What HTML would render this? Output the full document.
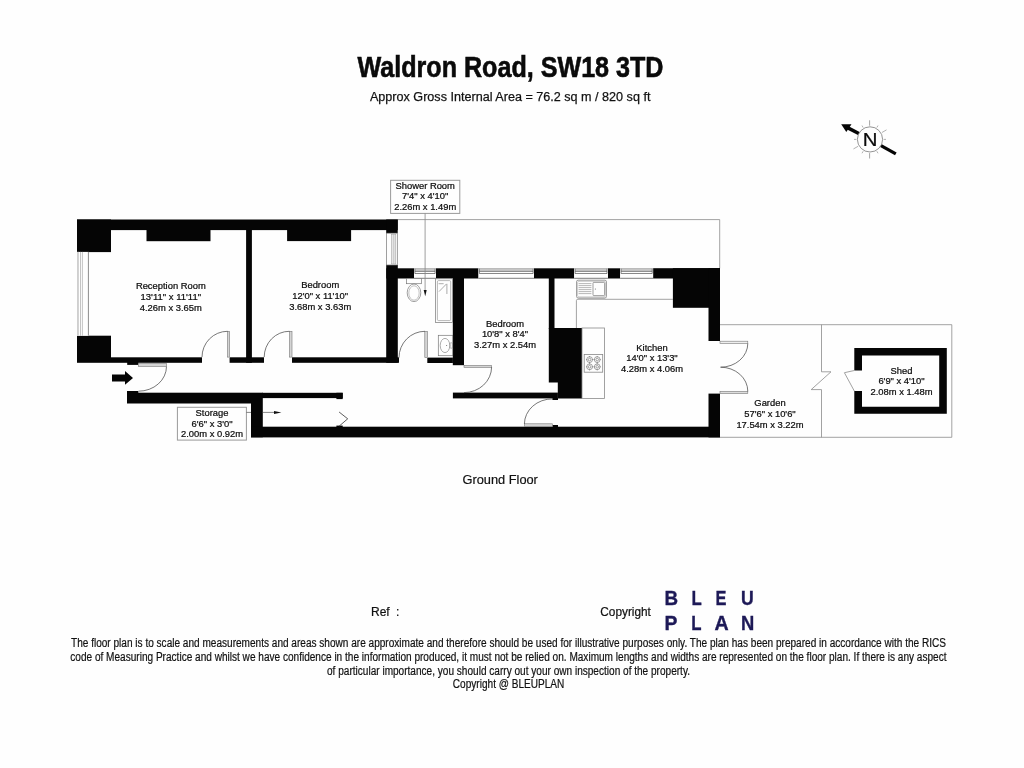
<!DOCTYPE html>
<html>
<head>
<meta charset="utf-8">
<title>Waldron Road, SW18 3TD</title>
<style>
html,body{margin:0;padding:0;background:#fefefe;}
body{width:1024px;height:768px;overflow:hidden;position:relative;font-family:"Liberation Sans",sans-serif;}
svg{position:absolute;left:0;top:0;will-change:transform;}
svg text{font-family:"Liberation Sans",sans-serif;}
.lbl{font-size:9.4px;fill:#0c0c0c;text-anchor:middle;stroke:#0c0c0c;stroke-width:0.22;}
.thin{fill:none;stroke:#555;stroke-width:0.8;}
.gray{fill:none;stroke:#8a8a8a;stroke-width:0.8;}
.leaf{fill:#d4d4d4;stroke:#777;stroke-width:0.6;}
.box{fill:#fefefe;stroke:#9a9a9a;stroke-width:1;}
.disc{font-size:12px;fill:#111;stroke:#111;stroke-width:0.2;}
</style>
</head>
<body>
<svg width="1024" height="768" viewBox="0 0 1024 768">
<rect x="0" y="0" width="1024" height="768" fill="#fefefe"/>

<!-- TITLE -->
<g id="title">
<text x="510.5" y="76.5" text-anchor="middle" font-size="29.4" font-weight="bold" fill="#0a0a0a" stroke="#0a0a0a" stroke-width="0.6" textLength="306" lengthAdjust="spacingAndGlyphs">Waldron Road, SW18 3TD</text>
<text x="510.2" y="101.4" text-anchor="middle" font-size="13.7" fill="#111" stroke="#111" stroke-width="0.25" textLength="280.5" lengthAdjust="spacingAndGlyphs">Approx Gross Internal Area = 76.2 sq m / 820 sq ft</text>
</g>

<!-- COMPASS -->
<g id="compass" transform="translate(870,139.4)">
<g stroke="#8f8f8f" stroke-width="0.7"><line x1="-0.4" y1="-13.70" x2="-0.4" y2="-19.10" stroke="#808080"/><line x1="6.85" y1="-11.86" x2="8.00" y2="-13.86"/><line x1="11.86" y1="-6.85" x2="16.54" y2="-9.55"/><line x1="13.70" y1="-0.00" x2="16.00" y2="-0.00"/><line x1="6.85" y1="11.86" x2="8.00" y2="13.86"/><line x1="-0.4" y1="13.70" x2="-0.4" y2="19.10" stroke="#808080"/><line x1="-6.85" y1="11.86" x2="-8.00" y2="13.86"/><line x1="-11.86" y1="6.85" x2="-16.54" y2="9.55"/><line x1="-13.70" y1="0.00" x2="-16.00" y2="0.00"/><line x1="-6.85" y1="-11.86" x2="-8.00" y2="-13.86"/></g>
<path d="M9.74 7.37 L24.99 15.94 L26.61 13.06 L11.36 4.49 Z" fill="#050505"/><path d="M-9.92 -7.14 L-22.25 -13.56 L-23.87 -10.46 L-11.54 -4.04 Z" fill="#050505"/><path d="M-28.8 -15.2 L-18.5 -15.2 L-23.7 -7.5 Z" fill="#050505"/>
<circle cx="0" cy="0" r="12.6" fill="#fefefe" stroke="#777" stroke-width="0.8"/>
<text transform="translate(0.2,6.7) scale(1.1,1)" text-anchor="middle" font-size="18.5" fill="#0a0a0a" stroke="#0a0a0a" stroke-width="0.25">N</text>
</g>

<!-- PLAN -->
<g id="plan">
<!-- thin boundary / garden lines -->
<g class="gray">
<path d="M397.3 219.6 H719.7 V268.3"/>
<path d="M720 324.7 H951.8 V437.3 H720"/>
<path d="M821.5 324.7 V371.8 H831 L811.2 389.6 H821.5 V437.3"/>
</g>

<!-- WALLS -->
<g fill="#050505" stroke="none">
<!-- front building -->
<rect x="77" y="219.5" width="320.7" height="10.6"/>
<rect x="77" y="219.5" width="34" height="32.6"/>
<rect x="77" y="335.7" width="34" height="27.1"/>
<rect x="146.5" y="229" width="64" height="12.2"/>
<rect x="246.1" y="229" width="5.8" height="133.8"/>
<rect x="287.1" y="229" width="64" height="12.1"/>
<rect x="386.2" y="219.5" width="11.5" height="13.7"/>
<rect x="386.2" y="265" width="11.6" height="97.8"/>
<!-- reception / bedroom bottom wall -->
<rect x="111" y="357.3" width="91" height="5.5"/>
<rect x="229.6" y="357.3" width="34.4" height="5.5"/>
<rect x="292" y="357.3" width="107" height="5.5"/>
<rect x="427.3" y="357.6" width="25.6" height="5.4"/>
<rect x="127.2" y="362" width="11.1" height="2.9"/>
<!-- corridor lower wall + storage -->
<rect x="127" y="392.7" width="124" height="10.8"/><rect x="127" y="391" width="11.3" height="2"/>
<rect x="251" y="392.7" width="11.8" height="44.6"/>
<rect x="262" y="392.8" width="80.7" height="5.3"/><rect x="336.4" y="392.8" width="6.3" height="6.3"/><rect x="336.4" y="425.6" width="6.3" height="2"/>
<rect x="251" y="426.7" width="469" height="10.7"/>
<!-- rear top wall segments -->
<rect x="386.3" y="268.3" width="27.7" height="10.2"/>
<rect x="436" y="268.3" width="42.5" height="10.2"/>
<rect x="534" y="268.3" width="40.2" height="10.2"/>
<rect x="607.9" y="268.3" width="12.3" height="10.2"/>
<rect x="653.1" y="268.2" width="66.9" height="10.3"/>
<!-- shower/bed wall -->
<rect x="452.8" y="278" width="11.2" height="87.2"/>
<!-- bed2 bottom wall -->
<rect x="452.9" y="392.6" width="105" height="5.8"/>
<!-- bed2/kitchen wall -->
<rect x="548.8" y="278" width="5.7" height="51"/>
<path d="M548.8 328 H582 V398.4 H557.8 V382.6 H548.8 Z"/>
<rect x="552.4" y="398" width="5.6" height="2"/>
<rect x="552.4" y="425" width="5.6" height="2"/>
<!-- kitchen top-right block and right wall -->
<rect x="672.9" y="268.2" width="47.1" height="39.6"/>
<rect x="708.5" y="268.2" width="11.5" height="72.8"/>
<rect x="708.5" y="393.6" width="11.5" height="43.8"/>
<!-- shed -->
<path d="M854.3 348 H946.8 V413.8 H854.3 V391 H862 V406.8 H939.2 V355.4 H862 V370.5 H854.3 Z"/>
</g>

<!-- WINDOWS -->
<g id="windows">
<!-- left bay window -->
<rect x="77.3" y="251.9" width="11.2" height="83.8" fill="#fefefe" stroke="none"/>
<rect x="77" y="251.9" width="1.9" height="83.8" fill="#cfcfcf"/>
<line x1="80.5" y1="251.9" x2="80.5" y2="335.7" stroke="#aaa" stroke-width="0.7"/>
<line x1="82.4" y1="251.9" x2="82.4" y2="335.7" stroke="#aaa" stroke-width="0.7"/>
<line x1="88.4" y1="251.9" x2="88.4" y2="335.7" stroke="#8c8c8c" stroke-width="1"/>
<!-- bedroom right window -->
<rect x="386.5" y="233.2" width="10.8" height="31.8" fill="#fefefe" stroke="#777" stroke-width="0.7"/>
<rect x="391.4" y="234.2" width="4.4" height="29.8" fill="#e6e6e6" stroke="#999" stroke-width="0.5"/>
<line x1="393.7" y1="234.2" x2="393.7" y2="264" stroke="#aaa" stroke-width="0.5"/>
<!-- top wall windows -->
<g>
<rect x="414" y="268.4" width="22.0" height="10" fill="#fefefe"/>
<rect x="414.9" y="268.5" width="20.2" height="2.7" fill="#c9c9c9"/>
<path d="M414.9 268.6 V273.5 H435.1 V268.6 M414.9 271.4 H435.1" fill="none" stroke="#555" stroke-width="0.7"/>
<path d="M414 268.6 H436" fill="none" stroke="#999" stroke-width="0.6"/>
<path d="M414 278.3 H436" fill="none" stroke="#444" stroke-width="0.7"/>
</g>
<g>
<rect x="478.5" y="268.4" width="55.5" height="10" fill="#fefefe"/>
<rect x="479.4" y="268.5" width="53.7" height="2.7" fill="#c9c9c9"/>
<path d="M479.4 268.6 V273.5 H533.1 V268.6 M479.4 271.4 H533.1" fill="none" stroke="#555" stroke-width="0.7"/>
<path d="M478.5 268.6 H534" fill="none" stroke="#999" stroke-width="0.6"/>
<path d="M478.5 278.3 H534" fill="none" stroke="#444" stroke-width="0.7"/>
</g>
<g>
<rect x="574.2" y="268.4" width="33.7" height="10" fill="#fefefe"/>
<rect x="575.1" y="268.5" width="31.9" height="2.7" fill="#c9c9c9"/>
<path d="M575.1 268.6 V273.5 H607.0 V268.6 M575.1 271.4 H607.0" fill="none" stroke="#555" stroke-width="0.7"/>
<path d="M574.2 268.6 H607.9" fill="none" stroke="#999" stroke-width="0.6"/>
<path d="M574.2 278.3 H607.9" fill="none" stroke="#444" stroke-width="0.7"/>
</g>
<g>
<rect x="620.2" y="268.4" width="32.9" height="10" fill="#fefefe"/>
<rect x="621.1" y="268.5" width="31.1" height="2.7" fill="#c9c9c9"/>
<path d="M621.1 268.6 V273.5 H652.2 V268.6 M621.1 271.4 H652.2" fill="none" stroke="#555" stroke-width="0.7"/>
<path d="M620.2 268.6 H653.1" fill="none" stroke="#999" stroke-width="0.6"/>
<path d="M620.2 278.3 H653.1" fill="none" stroke="#444" stroke-width="0.7"/>
</g>
</g>

<!-- DOORS -->
<g id="doors">
<!-- reception door -->
<rect class="leaf" x="227.5" y="331.3" width="2" height="25.8"/>
<path class="thin" d="M227.5 331.3 A25.6 25.8 0 0 0 202 357.1"/>
<!-- bedroom 1 door -->
<rect class="leaf" x="289.4" y="331.3" width="2.6" height="25.8"/>
<path class="thin" d="M289.4 331.3 A25.2 25.8 0 0 0 264.2 357.1"/>
<!-- shower door -->
<rect class="leaf" x="424.8" y="331.3" width="2.6" height="26.4"/>
<path class="thin" d="M425 331.3 A26 26.4 0 0 0 399 357.7"/>
<!-- front door -->
<rect class="leaf" x="138.3" y="363.6" width="28.2" height="2.8"/>
<path class="thin" d="M166.5 366.4 A28 24.8 0 0 1 138.5 391.2"/>
<!-- bedroom 2 door -->
<rect class="leaf" x="464" y="365.4" width="27.6" height="2" fill="#fefefe"/>
<path class="thin" d="M491.6 367 A27.6 25.6 0 0 1 464 392.6"/>
<!-- kitchen door -->
<rect class="leaf" x="524.4" y="423.8" width="28" height="2.8"/>
<path class="thin" d="M524.4 424 A28 25.2 0 0 1 552.6 398.9"/>
<!-- french doors -->
<rect class="leaf" x="720" y="341.2" width="27.8" height="2.2" style="fill:#eee"/>
<rect class="leaf" x="720" y="391.3" width="27.8" height="2.3" style="fill:#ddd"/>
<path class="thin" d="M747.8 343.4 A27.2 23.8 0 0 1 720.6 367.2"/>
<path class="thin" d="M747.8 391.3 A27.2 24.1 0 0 0 720.6 367.2"/>
<!-- shed door -->
<path class="gray" d="M854.3 370.5 L844.4 372.7 L854.3 391"/>
<!-- folding door in storage -->
<path d="M339.1 412 L347.7 418.8 L339.1 426.2" fill="none" stroke="#333" stroke-width="0.8"/>
</g>

<!-- entrance arrow -->
<path d="M112 374.6 H125 V371 L133 377.9 L125 384.8 V381.4 H112 Z" fill="#050505"/>

<!-- FIXTURES -->
<g id="fixtures">
<!-- toilet -->
<rect x="406.6" y="278.5" width="15" height="5.2" fill="#fefefe" stroke="#777" stroke-width="0.7"/>
<ellipse cx="414" cy="292.8" rx="6.8" ry="8.8" fill="#fefefe" stroke="#777" stroke-width="0.7"/>
<ellipse cx="414" cy="293" rx="5.2" ry="7.2" fill="none" stroke="#999" stroke-width="0.6"/>
<!-- shower tray -->
<rect x="435.6" y="278.8" width="16.9" height="43.6" fill="#fefefe" stroke="#777" stroke-width="0.7"/>
<rect x="437.4" y="280.6" width="13.3" height="40" rx="1.2" fill="none" stroke="#888" stroke-width="0.6"/>
<path d="M438.6 283.7 H443.6 M439 291.6 L446.4 284 M446.9 283.8 V294" fill="none" stroke="#888" stroke-width="0.7"/>
<!-- basin -->
<rect x="438.3" y="335.3" width="14.4" height="20.4" fill="#fefefe" stroke="#777" stroke-width="0.7"/>
<ellipse cx="445" cy="345.5" rx="4.8" ry="7.1" fill="none" stroke="#888" stroke-width="0.7"/>
<circle cx="446.6" cy="345.5" r="0.6" fill="#777"/>
<rect x="450" y="342.8" width="2.4" height="5.4" rx="0.8" fill="none" stroke="#888" stroke-width="0.6"/>
<!-- kitchen counters -->
<path class="gray" d="M576.4 328 V300.6 Q576.4 299.3 577.8 299.3 H673"/>
<rect x="582" y="328" width="22.5" height="70.4" class="gray"/>
<!-- kitchen sink -->
<rect x="578.4" y="297.6" width="26.4" height="1.6" fill="#cfcfcf"/>
<rect x="576.5" y="280.2" width="30" height="17.8" rx="1.6" fill="#fefefe" stroke="#777" stroke-width="0.7"/>
<rect x="577.6" y="281.3" width="27.8" height="15.6" rx="1.2" fill="none" stroke="#999" stroke-width="0.5"/>
<rect x="593" y="282.4" width="11.6" height="13.2" rx="0.8" fill="none" stroke="#777" stroke-width="0.7"/>
<path d="M578.6 283.6 H591.4 M578.6 285.6 H591.4 M578.6 287.6 H591.4 M578.6 289.6 H591.4 M578.6 291.6 H591.4 M578.6 293.6 H591.4" stroke="#999" stroke-width="0.7" fill="none"/>
<circle cx="595.4" cy="289" r="0.6" fill="#777"/>
<!-- hob -->
<rect x="584.2" y="354.4" width="18.5" height="17.8" fill="#fefefe" stroke="#888" stroke-width="0.8"/>
<g fill="none" stroke="#6a6a6a" stroke-width="0.6">
<circle cx="589.6" cy="359.6" r="2.9"/><circle cx="589.6" cy="359.6" r="1.3"/><path d="M586.0 359.6 H587.3000000000001 M591.9 359.6 H593.2 M589.6 356.0 V357.3 M589.6 361.90000000000003 V363.20000000000005"/>
<circle cx="589.6" cy="366.8" r="2.9"/><circle cx="589.6" cy="366.8" r="1.3"/><path d="M586.0 366.8 H587.3000000000001 M591.9 366.8 H593.2 M589.6 363.2 V364.5 M589.6 369.1 V370.40000000000003"/>
<circle cx="597.2" cy="359.6" r="2.9"/><circle cx="597.2" cy="359.6" r="1.3"/><path d="M593.6 359.6 H594.9000000000001 M599.5 359.6 H600.8000000000001 M597.2 356.0 V357.3 M597.2 361.90000000000003 V363.20000000000005"/>
<circle cx="597.2" cy="366.8" r="2.9"/><circle cx="597.2" cy="366.8" r="1.3"/><path d="M593.6 366.8 H594.9000000000001 M599.5 366.8 H600.8000000000001 M597.2 363.2 V364.5 M597.2 369.1 V370.40000000000003"/>
</g>
</g>

<!-- LABEL BOXES -->
<g id="boxes">
<rect class="box" x="390.6" y="180.3" width="69.2" height="33.1"/>
<line x1="425.1" y1="213.4" x2="425.1" y2="291" stroke="#888" stroke-width="0.8"/>
<path d="M423.7 290 H426.7 L425.2 296.2 Z" fill="#111"/>
<rect class="box" x="177.4" y="407.3" width="69" height="32.8"/>
<path d="M246.4 412.4 H251 M262.8 412.4 H275" stroke="#555" stroke-width="0.7" fill="none"/>
<path d="M274 410.9 L281.4 412.4 L274 413.9 Z" fill="#111"/>
</g>

<!-- ROOM LABELS -->
<g class="lbl">
<text x="170.8" y="289.1">Reception Room</text>
<text x="170.8" y="299.7" textLength="60.6" lengthAdjust="spacingAndGlyphs">13'11" x 11'11"</text>
<text x="170.8" y="310.5">4.26m x 3.65m</text>
<text x="320.2" y="288.3">Bedroom</text>
<text x="320.2" y="298.9">12'0" x 11'10"</text>
<text x="320.2" y="309.7">3.68m x 3.63m</text>
<text x="425.2" y="189.3">Shower Room</text>
<text x="425.2" y="199.4">7'4" x 4'10"</text>
<text x="425.2" y="210.4">2.26m x 1.49m</text>
<text x="212" y="416.2">Storage</text>
<text x="212" y="426.8">6'6" x 3'0"</text>
<text x="212" y="437.4">2.00m x 0.92m</text>
<text x="505" y="326.7">Bedroom</text>
<text x="505" y="337">10'8" x 8'4"</text>
<text x="505" y="348">3.27m x 2.54m</text>
<text x="652" y="350.6">Kitchen</text>
<text x="652" y="361.3">14'0" x 13'3"</text>
<text x="652" y="371.9">4.28m x 4.06m</text>
<text x="770" y="405.8">Garden</text>
<text x="770" y="416.7">57'6" x 10'6"</text>
<text x="770" y="427.6">17.54m x 3.22m</text>
<text x="901.5" y="373.5">Shed</text>
<text x="901.5" y="384.4">6'9" x 4'10"</text>
<text x="901.5" y="395.1">2.08m x 1.48m</text>
</g>
<text x="500.2" y="484.4" text-anchor="middle" font-size="12.8" fill="#111" stroke="#111" stroke-width="0.2">Ground Floor</text>
</g>

<!-- FOOTER -->
<g id="footer">
<text x="371" y="615.8" font-size="12" fill="#111" stroke="#111" stroke-width="0.2">Ref</text>
<text x="396" y="615.8" font-size="12" fill="#111" stroke="#111" stroke-width="0.2">:</text>
<text x="600.3" y="615.6" font-size="12" fill="#111" stroke="#111" stroke-width="0.2" textLength="50.6" lengthAdjust="spacingAndGlyphs">Copyright</text>
<g font-size="20" font-weight="bold" fill="#1d1957" stroke="#1d1957" stroke-width="0.35">
<text transform="translate(664.6,605) scale(0.94,1)">B</text><text transform="translate(691.6,605) scale(0.84,1)">L</text><text transform="translate(715.4,605) scale(0.82,1)">E</text><text transform="translate(741,605) scale(0.88,1)">U</text>
<text transform="translate(664.5,629.6) scale(0.97,1)">P</text><text transform="translate(691.2,629.6) scale(0.84,1)">L</text><text transform="translate(714.4,629.6) scale(0.98,1)">A</text><text transform="translate(741,629.6) scale(0.92,1)">N</text>
</g>
<g class="disc">
<text x="71" y="646.6" textLength="875" lengthAdjust="spacingAndGlyphs">The floor plan is to scale and measurements and areas shown are approximate and therefore should be used for illustrative purposes only. The plan has been prepared in accordance with the RICS</text>
<text x="70.3" y="660.9" textLength="876.2" lengthAdjust="spacingAndGlyphs">code of Measuring Practice and whilst we have confidence in the information produced, it must not be relied on. Maximum lengths and widths are represented on the floor plan. If there is any aspect</text>
<text x="508.5" y="674.8" text-anchor="middle" textLength="363" lengthAdjust="spacingAndGlyphs">of particular importance, you should carry out your own inspection of the property.</text>
<text x="508.6" y="688.2" text-anchor="middle" textLength="111.5" lengthAdjust="spacingAndGlyphs">Copyright @ BLEUPLAN</text>
</g>
</g>
</svg>
</body>
</html>
